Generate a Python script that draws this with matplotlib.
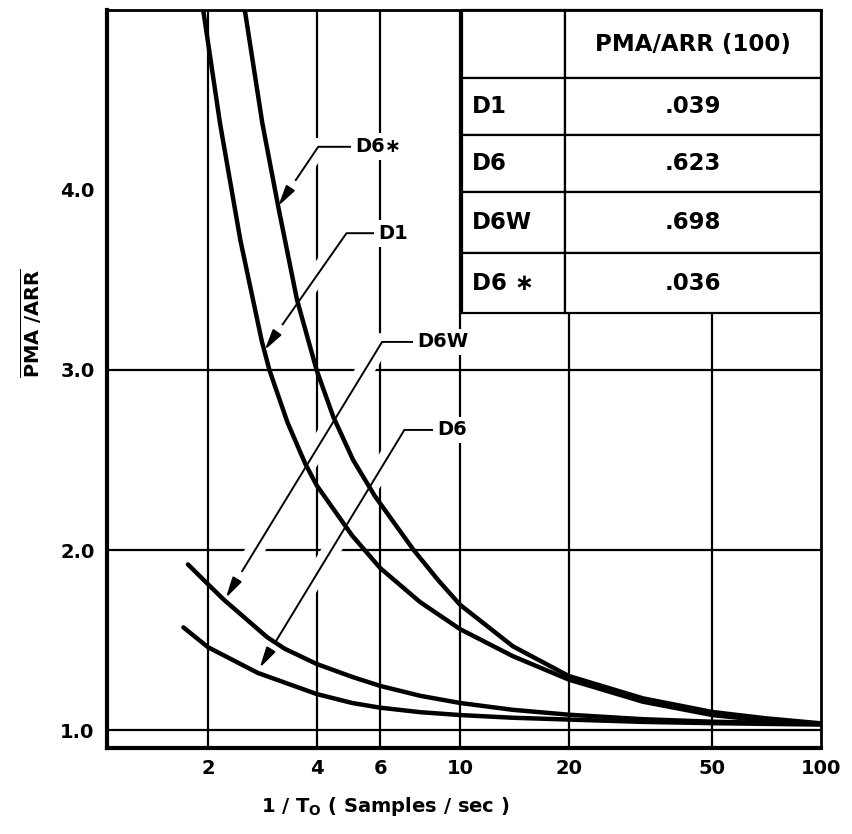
import matplotlib
matplotlib.use('Agg')
import matplotlib.pyplot as plt
import matplotlib.patheffects as pe
from matplotlib.table import Table
from matplotlib.ticker import FixedLocator, FixedFormatter, NullLocator

plt.rcParams['font.family'] = ['DejaVu Sans']
plt.rcParams['font.weight'] = 'bold'
plt.rcParams['mathtext.fontset'] = 'dejavusans'

# readings: x = 1/T0 (samples/sec), y = PMA/ARR
d1_x = [1.94, 2.16, 2.46, 2.82, 2.96, 3.32, 3.72, 4.0, 5.02, 6.0, 7.75,
        10, 14, 20, 32.1, 50, 70.3, 100]
d1_y = [5.0, 4.37, 3.72, 3.16, 3.0, 2.71, 2.48, 2.36, 2.08, 1.90, 1.71,
        1.56, 1.41, 1.28, 1.157, 1.083, 1.052, 1.035]

d6s_x = [2.53, 2.83, 3.13, 3.53, 4.0, 4.45, 5.05, 5.80, 7.43, 8.71, 10, 14, 20,
         32.1, 50, 70.3, 100]
d6s_y = [5.0, 4.37, 3.91, 3.39, 3.0, 2.74, 2.50, 2.30, 2.0, 1.83, 1.695, 1.465, 1.30,
         1.176, 1.10, 1.065, 1.037]

d6w_x = [1.76, 2.0, 2.21, 2.92, 3.26, 4.0, 5.02, 6.0, 7.75, 10, 14, 20, 32.1, 50,
         70.3, 100]
d6w_y = [1.92, 1.81, 1.725, 1.515, 1.452, 1.367, 1.295, 1.245, 1.19, 1.15, 1.112,
         1.085, 1.06, 1.046, 1.04, 1.035]

d6_x = [1.71, 2.0, 2.75, 4.0, 5.02, 6.0, 7.75, 10, 14, 20, 32.1, 50, 70.3, 100]
d6_y = [1.57, 1.46, 1.317, 1.20, 1.15, 1.124, 1.099, 1.083, 1.068, 1.058, 1.045,
        1.038, 1.034, 1.03]

xticks = [2, 4, 6, 10, 20, 50, 100]
xtick_labels = ['2', '4', '6', '10', '20', '50', '100']
yticks = [1.0, 2.0, 3.0, 4.0]
ytick_labels = ['1.0', '2.0', '3.0', '4.0']
grid_x = [2, 4, 6, 10, 20, 50]
grid_y = [1.0, 2.0, 3.0]

table_header = ['', 'PMA/ARR (100)']
table_names = ['D1', 'D6', 'D6W', 'D6 ∗']
table_values = ['.039', '.623', '.698', '.036']

fig = plt.figure(figsize=(8.52, 8.34), dpi=100)
ax = fig.add_axes([107 / 852, 86 / 834, 714 / 852, 738 / 834])
ax.set_xscale('log')
ax.set_xlim(1.05, 100)
ax.set_ylim(0.9, 5.0)

# grid
for gx in grid_x:
    ax.axvline(gx, color='black', lw=1.6, zorder=1)
for gy in grid_y:
    ax.axhline(gy, color='black', lw=1.6, zorder=1)

# curves
for xs, ys in [(d1_x, d1_y), (d6s_x, d6s_y), (d6w_x, d6w_y), (d6_x, d6_y)]:
    ax.plot(xs, ys, color='black', lw=3.2, solid_joinstyle='round',
            solid_capstyle='round', zorder=4)

# leader labels (white halo breaks the grid like the drafted original)
labels = ['D6∗', 'D1', 'D6W', 'D6']
label_pos = [(5.11, 4.24), (5.92, 3.76), (7.59, 3.156), (8.62, 2.667)]
tip_pos = [(3.13, 3.91), (2.87, 3.11), (2.24, 1.733), (2.78, 1.344)]
angles = [56, 55, 58.6, 58.7]
halo = [pe.Stroke(linewidth=13, foreground='white'), pe.Normal()]
for lab, tp, tip, ang in zip(labels, label_pos, tip_pos, angles):
    ax.annotate(lab, xy=tip, xytext=tp, ha='left', va='center',
                fontsize=14, fontweight='bold', zorder=3,
                bbox=dict(boxstyle='square,pad=0.2', fc='white', ec='none'),
                arrowprops=dict(arrowstyle='-|>,head_length=0.9,head_width=0.22',
                                connectionstyle=f'angle,angleA=0,angleB={ang},rad=0',
                                color='black', lw=1.4, shrinkA=0, shrinkB=0,
                                relpos=(0, 0.5), path_effects=halo))

# table in the upper right corner
tbl = Table(ax, bbox=[0.4972, 0.5894, 0.5028, 0.4106])
row_h = [68, 57, 57, 61, 60]
col_w = [103, 255]
rows = [table_header] + [[n, v] for n, v in zip(table_names, table_values)]
for r, row in enumerate(rows):
    for c, txt in enumerate(row):
        cell = tbl.add_cell(r, c, width=col_w[c], height=row_h[r], text=txt,
                            loc='left' if c == 0 else 'center',
                            facecolor='white', edgecolor='black')
        cell.set_linewidth(1.6)
        cell.get_text().set_fontsize(16.5)
        cell.get_text().set_fontweight('bold')
tbl.auto_set_font_size(False)
tbl.set_zorder(2)
ax.add_table(tbl)

# axes styling
ax.xaxis.set_major_locator(FixedLocator(xticks))
ax.xaxis.set_major_formatter(FixedFormatter(xtick_labels))
ax.xaxis.set_minor_locator(NullLocator())
ax.yaxis.set_major_locator(FixedLocator(yticks))
ax.yaxis.set_major_formatter(FixedFormatter(ytick_labels))
ax.tick_params(length=0, labelsize=14)
ax.tick_params(axis='x', pad=8)
ax.tick_params(axis='y', pad=9)
for lbl in ax.get_xticklabels() + ax.get_yticklabels():
    lbl.set_fontweight('bold')
for side in ['left', 'bottom']:
    ax.spines[side].set_linewidth(3)
for side in ['top', 'right']:
    ax.spines[side].set_linewidth(2)

fig.text(31 / 852, 1 - 323 / 834, r'$\overline{\mathbf{PMA\ /ARR}}$',
         rotation=90, ha='center', va='center', fontsize=14)
fig.text(385 / 852, 1 - 806 / 834, r'1 / T$_\mathbf{O}$ ( Samples / sec )',
         ha='center', va='center', fontsize=14, fontweight='bold')

fig.savefig('out.png', dpi=100, facecolor='white')
